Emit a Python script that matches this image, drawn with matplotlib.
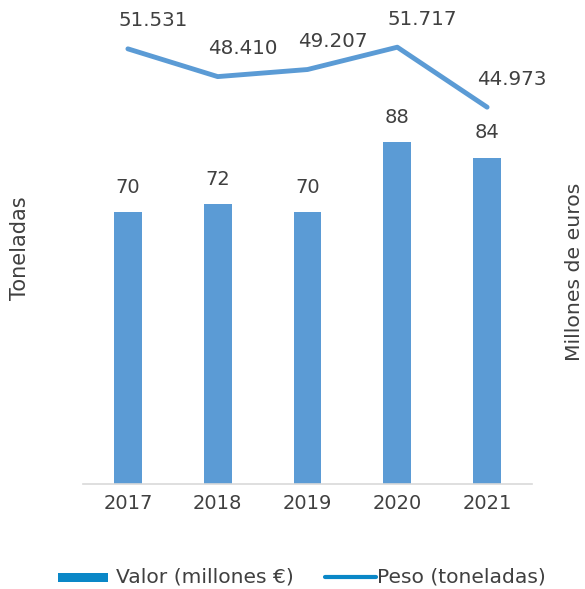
import matplotlib
matplotlib.use("Agg")
import matplotlib.pyplot as plt
from matplotlib.patches import Rectangle
from matplotlib.lines import Line2D

years = ["2017", "2018", "2019", "2020", "2021"]
valor = [70, 72, 70, 88, 84]
peso = [51531, 48410, 49207, 51717, 44973]
peso_labels = ["51.531", "48.410", "49.207", "51.717", "44.973"]
legend_labels = ["Valor (millones €)", "Peso (toneladas)"]

bar_color = "#5B9BD5"
legend_color = "#0A87C7"
text_color = "#404040"

W, H = 585, 589
fig = plt.figure(figsize=(W/100, H/100), dpi=100)
ax = fig.add_axes([83/W, 1-484/H, (532-83)/W, (484-18)/H])
x = list(range(len(years)))
ax.bar(x, valor, width=0.31, color=bar_color, zorder=2)
ax.set_xlim(-0.5, 4.5)
ax.set_ylim(0, 120)
for s in ["top", "right", "left"]:
    ax.spines[s].set_visible(False)
ax.spines["bottom"].set_color("#D9D9D9")
ax.spines["bottom"].set_linewidth(1.2)
ax.set_yticks([])
ax.set_xticks(x)
ax.set_xticklabels(years, fontsize=14, color=text_color)
ax.tick_params(axis="x", length=0, pad=7)
for xi, v in zip(x, valor):
    ax.annotate(str(v), (xi, v), xytext=(0, 25), textcoords="offset pixels",
                ha="center", va="center", fontsize=14, color=text_color)

ax2 = ax.twinx()
ax2.plot(x, peso, color=bar_color, linewidth=3.5, solid_capstyle="round", zorder=3)
ax2.set_ylim(2600, 55000)
for s in ax2.spines.values():
    s.set_visible(False)
ax2.set_yticks([])
for xi, v, lab in zip(x, peso, peso_labels):
    ax2.annotate(lab, (xi, v), xytext=(25, 28), textcoords="offset pixels",
                 ha="center", va="center", fontsize=14.3, color=text_color)

fig.text(20/W, 1-248/H, "Toneladas", rotation=90, ha="center", va="center",
         fontsize=15, color=text_color)
fig.text(574/W, 1-272/H, "Millones de euros", rotation=90, ha="center", va="center",
         fontsize=14.7, color=text_color)

# legend drawn manually
ly = 1 - 577/H
fig.add_artist(Rectangle((58/W, 1-582/H), 50/W, 9/H, facecolor=legend_color,
                         edgecolor="none", transform=fig.transFigure))
fig.text(116/W, ly, legend_labels[0], ha="left", va="center", fontsize=14.6,
         color=text_color)
fig.add_artist(Line2D([325/W, 376/W], [ly, ly], color=legend_color, linewidth=3,
                      solid_capstyle="round", transform=fig.transFigure))
fig.text(377/W, ly, legend_labels[1], ha="left", va="center", fontsize=14.6,
         color=text_color)

fig.savefig("out.png", dpi=100)
